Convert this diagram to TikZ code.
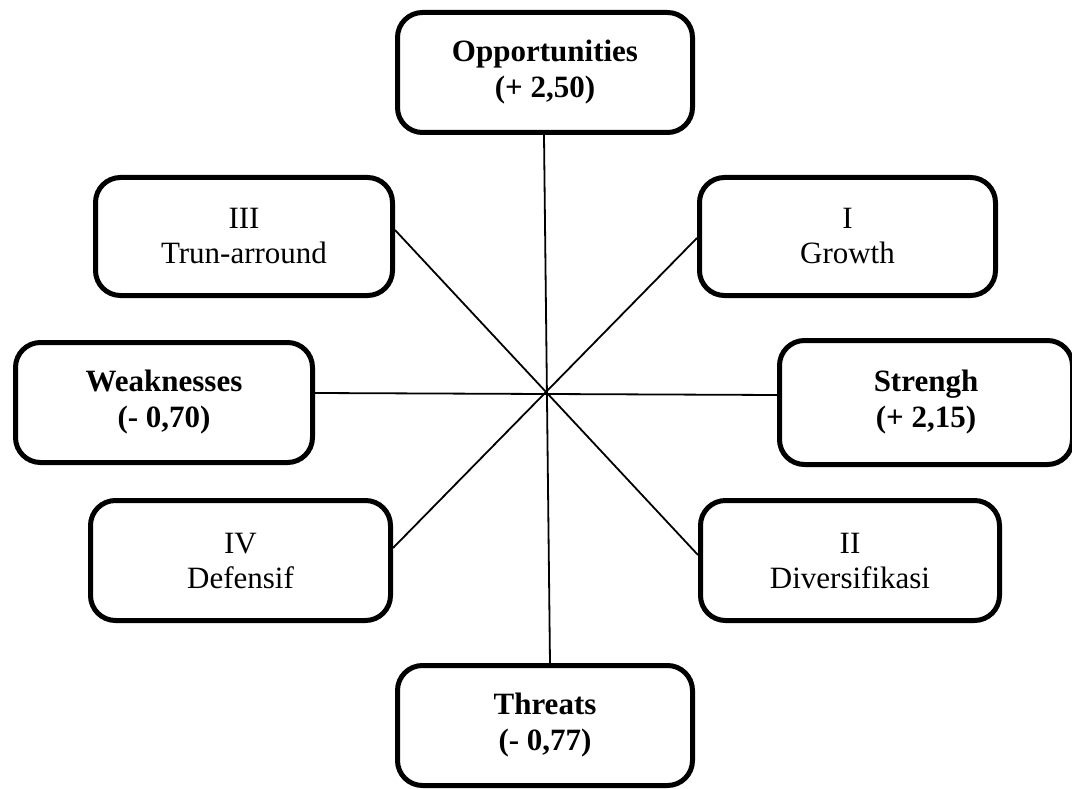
\documentclass[tikz,border=0pt]{standalone}
\usepackage{fontspec}
\setmainfont{Liberation Serif}
\usetikzlibrary{calc}
\begin{document}
\begin{tikzpicture}[x=1pt,y=-1pt,
  swotbox/.style={draw=black, line width=5pt, rounded corners=25pt, fill=white,
    align=center, inner sep=0pt, font=\fontsize{31}{35}\selectfont},
  boldbox/.style={swotbox, font=\fontsize{31}{36}\selectfont\bfseries},
  spoke/.style={draw=black, line width=1.8pt}]
\useasboundingbox (0,0) rectangle (1072,789);
% boxes
\node[boldbox, minimum width=295pt, minimum height=120pt] (opp) at (545,72.5) {Opportunities\\(+ 2,50)};
\node[swotbox, minimum width=297pt, minimum height=118pt] (q3) at (244,236.5) {III\\Trun-arround};
\node[swotbox, minimum width=296pt, minimum height=118pt] (q1) at (847.5,236.5) {I\\Growth};
\node[boldbox, minimum width=297pt, minimum height=120pt] (weak) at (164,402.5) {Weaknesses\\(- 0,70)};
\node[boldbox, minimum width=293pt, minimum height=124pt] (str) at (926,402.5) {Strengh\\(+ 2,15)};
\node[swotbox, minimum width=300pt, minimum height=120pt] (q4) at (240.5,560.5) {IV\\Defensif};
\node[swotbox, minimum width=299pt, minimum height=120pt] (q2) at (850,560.5) {II\\Diversifikasi};
\node[boldbox, minimum width=295pt, minimum height=120pt] (thr) at (545,725.5) {Threats\\(- 0,77)};
% spokes
\draw[spoke] ($(opp.south)+(-1,0)$) -- ($(thr.north)+(5,0)$);
\draw[spoke] ($(weak.east)+(0,-9.5)$) -- ($(str.west)+(0,-7.5)$);
\draw[spoke] ($(q3.east)+(0,-6.5)$) -- ($(q2.west)+(0,-5.5)$);
\draw[spoke] ($(q1.west)+(0,1.5)$) -- ($(q4.east)+(0,-12.5)$);
\end{tikzpicture}
\end{document}
